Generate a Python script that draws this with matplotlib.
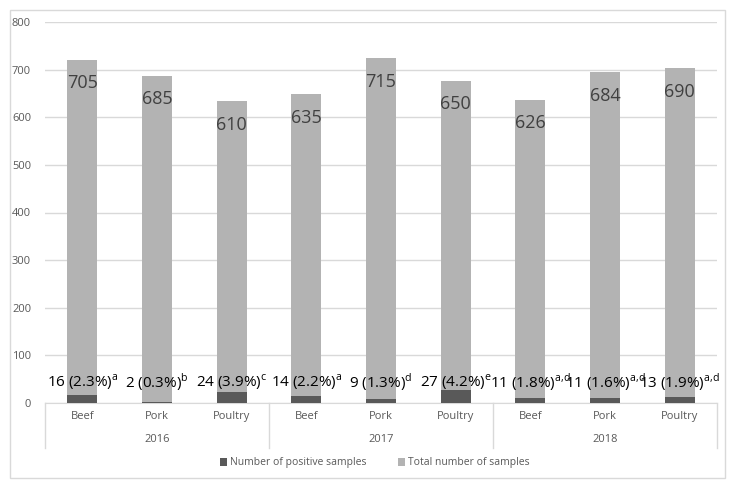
import numpy as np
import matplotlib.pyplot as plt
from matplotlib.patches import Rectangle

plt.rcParams['font.family'] = ['Open Sans', 'DejaVu Sans']
plt.rcParams['mathtext.fontset'] = 'custom'
plt.rcParams['mathtext.rm'] = 'Open Sans'

years = ["2016", "2017", "2018"]
meats = ["Beef", "Pork", "Poultry"]
positive = [16, 2, 24, 14, 9, 27, 11, 11, 13]
total = [705, 685, 610, 635, 715, 650, 626, 684, 690]
percent = ["2.3", "0.3", "3.9", "2.2", "1.3", "4.2", "1.8", "1.6", "1.9"]
marks = ["a", "b", "c", "a", "d", "e", "a{,}d", "a{,}d", "a{,}d"]

dark = "#595959"
light = "#b3b3b3"

fig = plt.figure(figsize=(7.53, 4.88), dpi=100)
W, H = 753, 488
fig.patches.append(Rectangle((10 / W, 1 - 478 / H), 715 / W, 468 / H,
                             transform=fig.transFigure, fill=False,
                             edgecolor="#d9d9d9", lw=1))

ax = fig.add_axes([45 / W, 1 - 403 / H, 672 / W, 381 / H])
x = np.arange(len(total))
b1 = ax.bar(x, positive, 0.4, color=dark, label="Number of positive samples", zorder=3)
b2 = ax.bar(x, total, 0.4, bottom=positive, color=light, label="Total number of samples", zorder=3)

for i in x:
    ax.annotate(str(total[i]), (i, positive[i] + total[i]), xytext=(0, -17),
                textcoords="offset points", ha="center", va="center",
                fontsize=13, color="#404040", zorder=4)
    ax.annotate(f"{positive[i]} ({percent[i]}%)" + r"$^{\mathrm{" + marks[i] + "}}$",
                (i, 0), xytext=(0, 15), textcoords="offset points",
                ha="center", va="center", fontsize=11, color="black", zorder=4)

ax.set_xlim(-0.5, len(total) - 0.5)
ax.set_ylim(0, 800)
ax.set_yticks(range(0, 801, 100))
ax.yaxis.grid(True, color="#d9d9d9", lw=1, zorder=0)
for s in ["top", "right", "left"]:
    ax.spines[s].set_visible(False)
ax.spines["bottom"].set_color("#d9d9d9")
ax.tick_params(axis="y", length=0, labelsize=8, labelcolor="#595959", pad=10)
ax.set_xticks(x)
ax.set_xticklabels(meats * len(years))
ax.tick_params(axis="x", length=0, labelsize=8, labelcolor="#595959", pad=6)

trans = ax.get_xaxis_transform()
for k in range(len(years) + 1):
    ax.plot([3 * k - 0.5] * 2, [0, -0.118], transform=trans, color="#d9d9d9",
            lw=1, clip_on=False)
for k, yr in enumerate(years):
    ax.text(3 * k + 1, -0.097, yr, transform=trans, ha="center", va="center",
            fontsize=8, color="#595959")

fig.legend(handles=[b1, b2], loc="center", bbox_to_anchor=(375 / W, 1 - 463 / H),
           ncol=2, frameon=False, fontsize=7.5, handlelength=0.7, handleheight=0.7,
           handletextpad=0.3, columnspacing=3, labelcolor="#595959")

fig.savefig("out.png", dpi=100)
